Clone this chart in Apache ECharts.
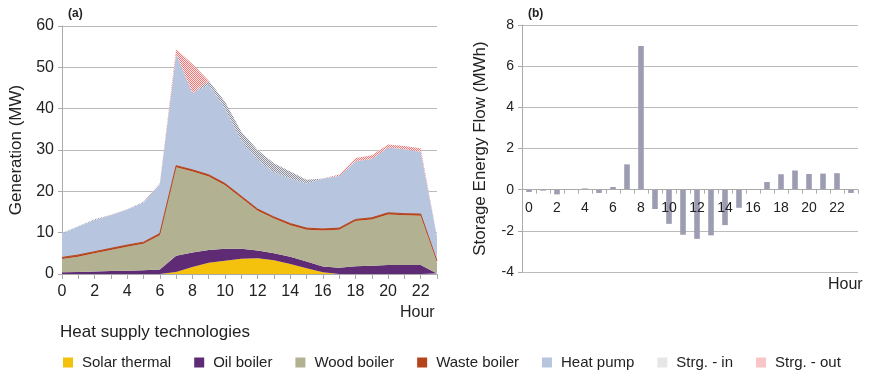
<!DOCTYPE html>
<html>
<head>
<meta charset="utf-8">
<style>
  html, body { margin: 0; padding: 0; background: #fff; }
  #chart { width: 872px; height: 373px; }
</style>
<script src="https://cdn.jsdelivr.net/npm/echarts@6/dist/echarts.min.js"></script>
</head>
<body>
<div id="chart"></div>
<script>
// Hours of the day
const hours = ['0','1','2','3','4','5','6','7','8','9','10','11','12','13','14','15','16','17','18','19','20','21','22','23'];

// Hourly heat generation per technology (MW), stacked
const solarThermal = [0,0,0,0,0,0,0,0.5,1.7,2.7,3.2,3.7,3.8,3.3,2.4,1.4,0.4,0,0,0,0,0,0,0];
const oilBoiler    = [0.4,0.5,0.6,0.7,0.8,0.9,1.1,3.9,3.5,3.1,2.9,2.4,1.9,1.7,1.8,1.6,1.4,1.5,1.9,2.0,2.2,2.2,2.2,0.1];
const woodBoiler   = [3.2,3.7,4.4,5.1,5.8,6.4,8.3,21.4,19.6,17.8,15.4,12.3,9.6,8.4,7.6,7.7,8.7,9.2,10.9,11.2,12.2,12.0,11.9,2.6];
const wasteBoiler  = [0.4,0.4,0.4,0.4,0.4,0.4,0.4,0.4,0.4,0.4,0.4,0.4,0.4,0.4,0.4,0.4,0.4,0.4,0.4,0.4,0.4,0.4,0.4,0.4];
const heatPump     = [5.8,6.9,7.6,8.1,8.6,9.6,12.0,27.0,18.6,21.8,18.1,13.4,11.9,10.8,10.9,10.8,12.2,12.6,14.1,14.2,15.8,15.6,15.1,5.9];
const storageIn    = [0.11,0.05,0.23,0,0,0.16,0,0,0,0.94,1.66,2.19,2.39,2.22,1.72,0.88,0,0,0,0,0,0,0,0.16];
const storageOut   = [0,0,0,0.03,0.06,0,0.13,1.23,6.98,0,0,0,0,0,0,0,0,0.37,0.75,0.93,0.76,0.78,0.8,0];

// Net storage energy flow per hour (MWh)
const storageFlow  = [-0.11,-0.05,-0.23,0.03,0.06,-0.16,0.13,1.23,6.98,-0.94,-1.66,-2.19,-2.39,-2.22,-1.72,-0.88,0,0.37,0.75,0.93,0.76,0.78,0.8,-0.16];

// Axis ticks
const genTicks = { min: 0, max: 60, interval: 10 };
const flowTicks = { min: -4, max: 8, interval: 2 };

const FONT = '"Liberation Sans", Arial, Helvetica, sans-serif';

// Panel (b) plot box; the hour axis sits on the zero line
const flowGrid = { left: 522, top: 25, right: 14, bottom: 101 };
const flowPlotHeight = 373 - flowGrid.top - flowGrid.bottom;
const zeroLineY = flowGrid.top + flowPlotHeight * (flowTicks.max - 0) / (flowTicks.max - flowTicks.min);

// Small checker tile used for the storage hatches
function checker(c1, c2) {
  const cv = document.createElement('canvas');
  cv.width = 2; cv.height = 2;
  const ctx = cv.getContext('2d');
  ctx.fillStyle = c2; ctx.fillRect(0, 0, 2, 2);
  ctx.fillStyle = c1; ctx.fillRect(0, 0, 1, 1); ctx.fillRect(1, 1, 1, 1);
  return { image: cv, repeat: 'repeat' };
}
const hatchIn = checker('#8e909c', '#e4e6ec');
const hatchOut = checker('#ef7878', '#fde8e8');
const keyIn = checker('#d6d6d6', '#f6f6f6');
const keyOut = checker('#f29a9a', '#fff2f2');

function areaSeries(name, data, color, extra) {
  return Object.assign({
    name: name,
    type: 'line',
    stack: 'gen',
    data: data,
    xAxisIndex: 0,
    yAxisIndex: 0,
    showSymbol: false,
    symbol: 'none',
    lineStyle: { width: 0 },
    itemStyle: { color: color },
    areaStyle: { color: color, opacity: 1 },
    emphasis: { disabled: true },
    animation: false
  }, extra || {});
}

const chart = echarts.init(document.getElementById('chart'), null, { renderer: 'canvas' });

const axisLabelStyle = { color: '#222', fontFamily: FONT };

chart.setOption({
  animation: false,
  textStyle: { fontFamily: FONT },
  grid: [
    { left: 62, top: 26, right: 435, bottom: 99, containLabel: false },
    { left: flowGrid.left, top: flowGrid.top, right: flowGrid.right, bottom: flowGrid.bottom, containLabel: false },
    // hour axis of panel (b), laid along the zero line
    { left: flowGrid.left, top: flowGrid.top, right: flowGrid.right, bottom: 373 - zeroLineY, containLabel: false }
  ],
  legend: {
    left: 58,
    top: 350,
    icon: 'rect',
    itemWidth: 10,
    itemHeight: 10,
    itemGap: 23,
    textStyle: { fontSize: 15, color: '#222', fontFamily: FONT, padding: [0, 0, 0, 4] },
    data: [
      'Solar thermal', 'Oil boiler', 'Wood boiler', 'Waste boiler', 'Heat pump',
      { name: 'Strg. - in', itemStyle: { color: keyIn } },
      { name: 'Strg. - out', itemStyle: { color: keyOut } }
    ]
  },
  xAxis: [
    {
      gridIndex: 0,
      type: 'category',
      data: hours,
      boundaryGap: false,
      axisLine: { lineStyle: { color: '#aaa', width: 1 } },
      axisTick: { show: true, interval: 0, length: 5, lineStyle: { color: '#aaa' } },
      axisLabel: Object.assign({ interval: 1, fontSize: 16, margin: 10 }, axisLabelStyle),
      splitLine: { show: false }
    },
    {
      gridIndex: 1,
      type: 'category',
      data: hours,
      boundaryGap: true,
      axisLine: { show: false },
      axisTick: { show: false },
      axisLabel: { show: false },
      splitLine: { show: false }
    },
    {
      gridIndex: 2,
      type: 'category',
      data: hours,
      boundaryGap: true,
      z: 10,
      axisLine: { onZero: false, lineStyle: { color: '#aaa', width: 1 } },
      axisTick: { show: true, interval: 0, length: 4, lineStyle: { color: '#aaa' } },
      axisLabel: Object.assign({ interval: 1, fontSize: 14, margin: 11 }, axisLabelStyle),
      splitLine: { show: false }
    }
  ],
  yAxis: [
    {
      gridIndex: 0,
      type: 'value',
      min: genTicks.min, max: genTicks.max, interval: genTicks.interval,
      name: 'Generation (MW)',
      nameLocation: 'middle',
      nameGap: 37,
      nameTextStyle: { fontSize: 17, color: '#222', fontFamily: FONT },
      axisLine: { show: true, lineStyle: { color: '#aaa' } },
      axisTick: { show: true, length: 4, lineStyle: { color: '#aaa' } },
      axisLabel: Object.assign({ fontSize: 16, margin: 8 }, axisLabelStyle),
      splitLine: { show: true, lineStyle: { color: '#bbb', width: 1 } }
    },
    {
      gridIndex: 1,
      type: 'value',
      min: flowTicks.min, max: flowTicks.max, interval: flowTicks.interval,
      name: 'Storage Energy Flow (MWh)',
      nameLocation: 'middle',
      nameGap: 33,
      nameTextStyle: { fontSize: 17, color: '#222', fontFamily: FONT },
      axisLine: { show: true, lineStyle: { color: '#aaa' } },
      axisTick: { show: true, length: 4, lineStyle: { color: '#aaa' } },
      axisLabel: Object.assign({ fontSize: 14, margin: 8 }, axisLabelStyle),
      splitLine: { show: true, lineStyle: { color: '#bbb', width: 1 } }
    },
    {
      gridIndex: 2,
      type: 'value',
      show: false,
      min: 0, max: 1
    }
  ],
  series: [
    areaSeries('Solar thermal', solarThermal, '#f4c10c'),
    areaSeries('Oil boiler', oilBoiler, '#5e2b74'),
    areaSeries('Wood boiler', woodBoiler, '#b2b292'),
    areaSeries('Waste boiler', wasteBoiler, '#b4441b', { lineStyle: { width: 1, color: '#b4441b' } }),
    areaSeries('Heat pump', heatPump, '#b8c5df'),
    areaSeries('Strg. - in', storageIn, hatchIn),
    areaSeries('Strg. - out', storageOut, hatchOut),
    {
      name: 'Storage flow',
      type: 'bar',
      xAxisIndex: 1,
      yAxisIndex: 1,
      data: storageFlow,
      barWidth: '40%',
      itemStyle: { color: '#9c9cb2' },
      emphasis: { disabled: true },
      animation: false
    }
  ],
  graphic: [
    { type: 'text', left: 68, top: 8, style: { text: '(a)', fontSize: 12, fontWeight: 'bold', fill: '#222', fontFamily: FONT } },
    { type: 'text', left: 528, top: 8, style: { text: '(b)', fontSize: 12, fontWeight: 'bold', fill: '#222', fontFamily: FONT } },
    { type: 'text', left: 400, top: 305, style: { text: 'Hour', fontSize: 16, fill: '#222', fontFamily: FONT } },
    { type: 'text', left: 828, top: 277, style: { text: 'Hour', fontSize: 16, fill: '#222', fontFamily: FONT } },
    { type: 'text', left: 60, top: 324, style: { text: 'Heat supply technologies', fontSize: 17, fill: '#222', fontFamily: FONT } }
  ]
});
</script>
</body>
</html>
